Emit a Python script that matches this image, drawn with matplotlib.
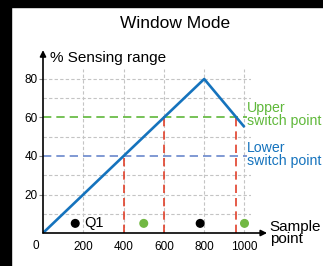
import matplotlib
matplotlib.use('Agg')
import matplotlib.pyplot as plt
from matplotlib.patches import Rectangle

plt.rcParams['font.family'] = ['Liberation Sans', 'DejaVu Sans']

# sensing curve
curve_x = [0, 800, 1000]
curve_y = [0, 80, 55]

# switch points
upper_sp = 60
lower_sp = 40
switch_x = [400, 600, 960]
switch_top = [40, 60, 60]

# output states (Q1)
dot_x = [160, 500, 780, 1000]
dot_y = [5, 5, 5, 5]
dot_c = ['black', '#72b843', 'black', '#72b843']

xticks = [200, 400, 600, 800, 1000]
yticks = [20, 40, 60, 80]

W, H = 323, 266
fig = plt.figure(figsize=(W / 100, H / 100), dpi=100)

# black frame from the screenshot
fig.patches.append(Rectangle((0, 0), 11 / W, 1, transform=fig.transFigure,
                             color='black', zorder=0))
fig.patches.append(Rectangle((0, 1 - 7 / H), 1, 7 / H, transform=fig.transFigure,
                             color='black', zorder=0))

px_x = 0.2015
px_y = 1.925
x0, y0 = 43, 233
xmax, ymax = 1030, 85
ax = fig.add_axes([x0 / W, (H - y0) / H, xmax * px_x / W, ymax * px_y / H])
ax.set_xlim(0, xmax)
ax.set_ylim(0, ymax)
for s in ax.spines.values():
    s.set_visible(False)
ax.patch.set_alpha(0)

# grid
for gx in [200, 400, 600, 800, 1000]:
    ax.plot([gx, gx], [0, 85], color='#c4c4c4', lw=0.8, ls=(0, (3, 2)), zorder=1)
for gy in [10, 20, 30, 50, 70, 80]:
    ax.plot([0, 1030], [gy, gy], color='#c4c4c4', lw=0.8, ls=(0, (3, 2)), zorder=1)

ax.plot([0, 1010], [upper_sp, upper_sp], color='#5fb83a', lw=1.2, ls=(0, (5, 3)), zorder=2)
ax.plot([0, 1010], [lower_sp, lower_sp], color='#6a88cc', lw=1.2, ls=(0, (5, 3)), zorder=2)

for sx, st in zip(switch_x, switch_top):
    ax.plot([sx, sx], [0, st], color='#e0402a', lw=1.2, ls=(0, (5, 3)), zorder=2)

ax.plot(curve_x, curve_y, color='#1573bd', lw=1.9, zorder=3, solid_capstyle='butt')

ax.scatter(dot_x, dot_y, c=dot_c, s=30, zorder=4, clip_on=False)
ax.text(dot_x[0] + 45, dot_y[0], 'Q1', fontsize=10.5, va='center', ha='left')

# axes with arrows
ax.annotate('', xy=(0, 95), xytext=(0, 0), annotation_clip=False,
            arrowprops=dict(arrowstyle='-|>', color='black', lw=1.2,
                            mutation_scale=9, shrinkA=0, shrinkB=0))
ax.annotate('', xy=(1112, 0), xytext=(0, 0), annotation_clip=False,
            arrowprops=dict(arrowstyle='-|>', color='black', lw=1.2,
                            mutation_scale=9, shrinkA=0, shrinkB=0))

ax.set_xticks(xticks)
ax.set_xticklabels([str(t) for t in xticks])
ax.set_yticks(yticks)
ax.set_yticklabels([str(t) for t in yticks])
ax.tick_params(axis='x', length=0, pad=6, labelsize=8.5)
ax.tick_params(axis='y', length=3, width=0.8, color='#888888', pad=1, labelsize=8.5)
ax.text(-35, -7, '0', fontsize=8.5, ha='center', va='center')

ax.text(1010, 61.5, 'Upper\nswitch point', color='#5fb83a', fontsize=10.2,
        ha='left', va='center', linespacing=0.95)
ax.text(1010, 40.8, 'Lower\nswitch point', color='#1573bd', fontsize=10.2,
        ha='left', va='center', linespacing=0.95)
ax.text(1125, 0, 'Sample\npoint', fontsize=11, ha='left', va='center',
        linespacing=0.88)
ax.text(35, 91, '% Sensing range', fontsize=11, ha='left', va='center')

fig.text(175 / W, 1 - 24 / H, 'Window Mode', fontsize=12.5, ha='center', va='center')

fig.savefig('out.png', dpi=100)
